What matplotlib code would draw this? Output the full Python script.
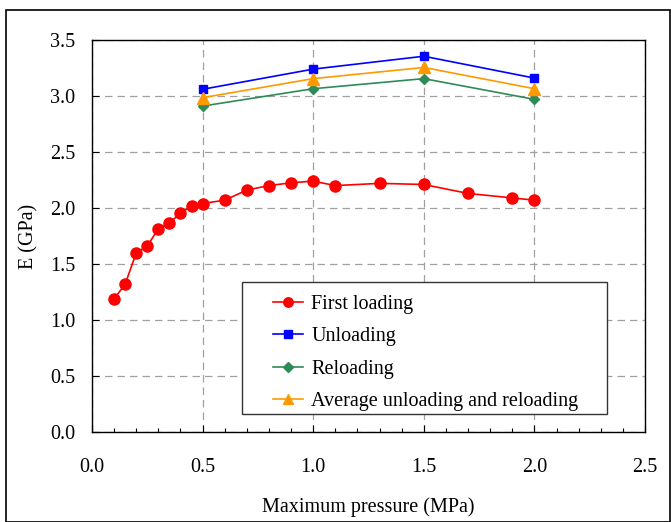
import matplotlib
matplotlib.use("Agg")
import matplotlib.pyplot as plt
from matplotlib.ticker import MultipleLocator, FormatStrFormatter
from matplotlib.patches import Rectangle
from matplotlib.legend_handler import HandlerLine2D

plt.rcParams['font.family'] = ['Liberation Serif', 'DejaVu Serif']

first_x = [0.1, 0.15, 0.2, 0.25, 0.3, 0.35, 0.4, 0.45, 0.5, 0.6, 0.7, 0.8, 0.9, 1.0, 1.1, 1.3, 1.5, 1.7, 1.9, 2.0]
first_y = [1.19, 1.32, 1.60, 1.66, 1.815, 1.865, 1.955, 2.015, 2.04, 2.07, 2.16, 2.20, 2.225, 2.24, 2.20, 2.22, 2.21, 2.13, 2.09, 2.07]

cyc_x = [0.5, 1.0, 1.5, 2.0]
unload_y = [3.06, 3.24, 3.355, 3.16]
reload_y = [2.91, 3.065, 3.155, 2.97]
avg_y = [2.985, 3.155, 3.255, 3.065]

FS = 14.5


class ShiftedHandler(HandlerLine2D):
    def __init__(self, shift, **kw):
        super().__init__(**kw)
        self.shift = shift

    def create_artists(self, legend, orig_handle, xdescent, ydescent, width, height, fontsize, trans):
        s = self.shift * fontsize
        return super().create_artists(legend, orig_handle, xdescent - s, ydescent, width - s, height, fontsize, trans)


fig = plt.figure(figsize=(6.71, 5.22), dpi=100)
ax = fig.add_axes([92/671, 1-432/522, (645-92)/671, (432-40)/522])

l1, = ax.plot(first_x, first_y, color='#FF0000', marker='o', markersize=8, lw=1.2, label='First loading', zorder=3)
l2, = ax.plot(cyc_x, unload_y, color='#0000FF', marker='s', markersize=6, lw=1.2, label='Unloading', zorder=3)
l3, = ax.plot(cyc_x, reload_y, color='#2E8B57', marker='D', markersize=5.5, lw=1.2, label='Reloading', zorder=3)
l4, = ax.plot(cyc_x, avg_y, color='#FF9900', marker='^', markersize=8, lw=1.2, label='Average unloading and reloading', zorder=3)

ax.set_xlim(0, 2.5)
ax.set_ylim(0, 3.5)
ax.xaxis.set_major_locator(MultipleLocator(0.5))
ax.xaxis.set_minor_locator(MultipleLocator(0.1))
ax.yaxis.set_major_locator(MultipleLocator(0.5))
ax.xaxis.set_major_formatter(FormatStrFormatter('%.1f'))
ax.yaxis.set_major_formatter(FormatStrFormatter('%.1f'))
ax.tick_params(axis='both', which='major', direction='in', length=5, labelsize=FS, width=0.8)
ax.tick_params(axis='x', which='major', pad=19)
ax.tick_params(axis='y', which='major', pad=12)
ax.tick_params(axis='x', which='minor', direction='in', length=3, width=0.8)
ax.grid(True, which='major', color='#A0A0A0', linestyle=(0, (6, 4)), lw=0.9)
ax.set_axisbelow(True)
for s in ax.spines.values():
    s.set_linewidth(1.0)

ax.set_xlabel('Maximum pressure (MPa)', fontsize=FS, labelpad=14)
ax.set_ylabel('E (GPa)', fontsize=FS, labelpad=8)

x0 = (242-92)/553
y1 = (432-282)/392
w = (607-242)/553
h = (414-282)/392

# legend box (frame drawn as a patch so its height matches the reference)
ax.add_patch(Rectangle((x0, y1 - h), w, h, transform=ax.transAxes, facecolor='white',
                       edgecolor='#333333', lw=1.0, zorder=4))

hs = {l: ShiftedHandler(0.9) for l in (l1, l2, l3, l4)}
leg = ax.legend(handles=[l1, l2, l3, l4], loc='upper left', bbox_to_anchor=(x0, y1 - h, w, h),
                mode='expand', handler_map=hs,
                fontsize=FS, frameon=False,
                borderpad=0.65, labelspacing=0.65, handlelength=2.4,
                handletextpad=0.4, borderaxespad=0, markerscale=0.85)
leg.set_zorder(5)

fig.patches.append(Rectangle((6/671, 0.5/522), (670-6)/671, (521-9)/522, transform=fig.transFigure,
                             fill=False, edgecolor='black', lw=1.2))

fig.savefig('out.png', dpi=100)
